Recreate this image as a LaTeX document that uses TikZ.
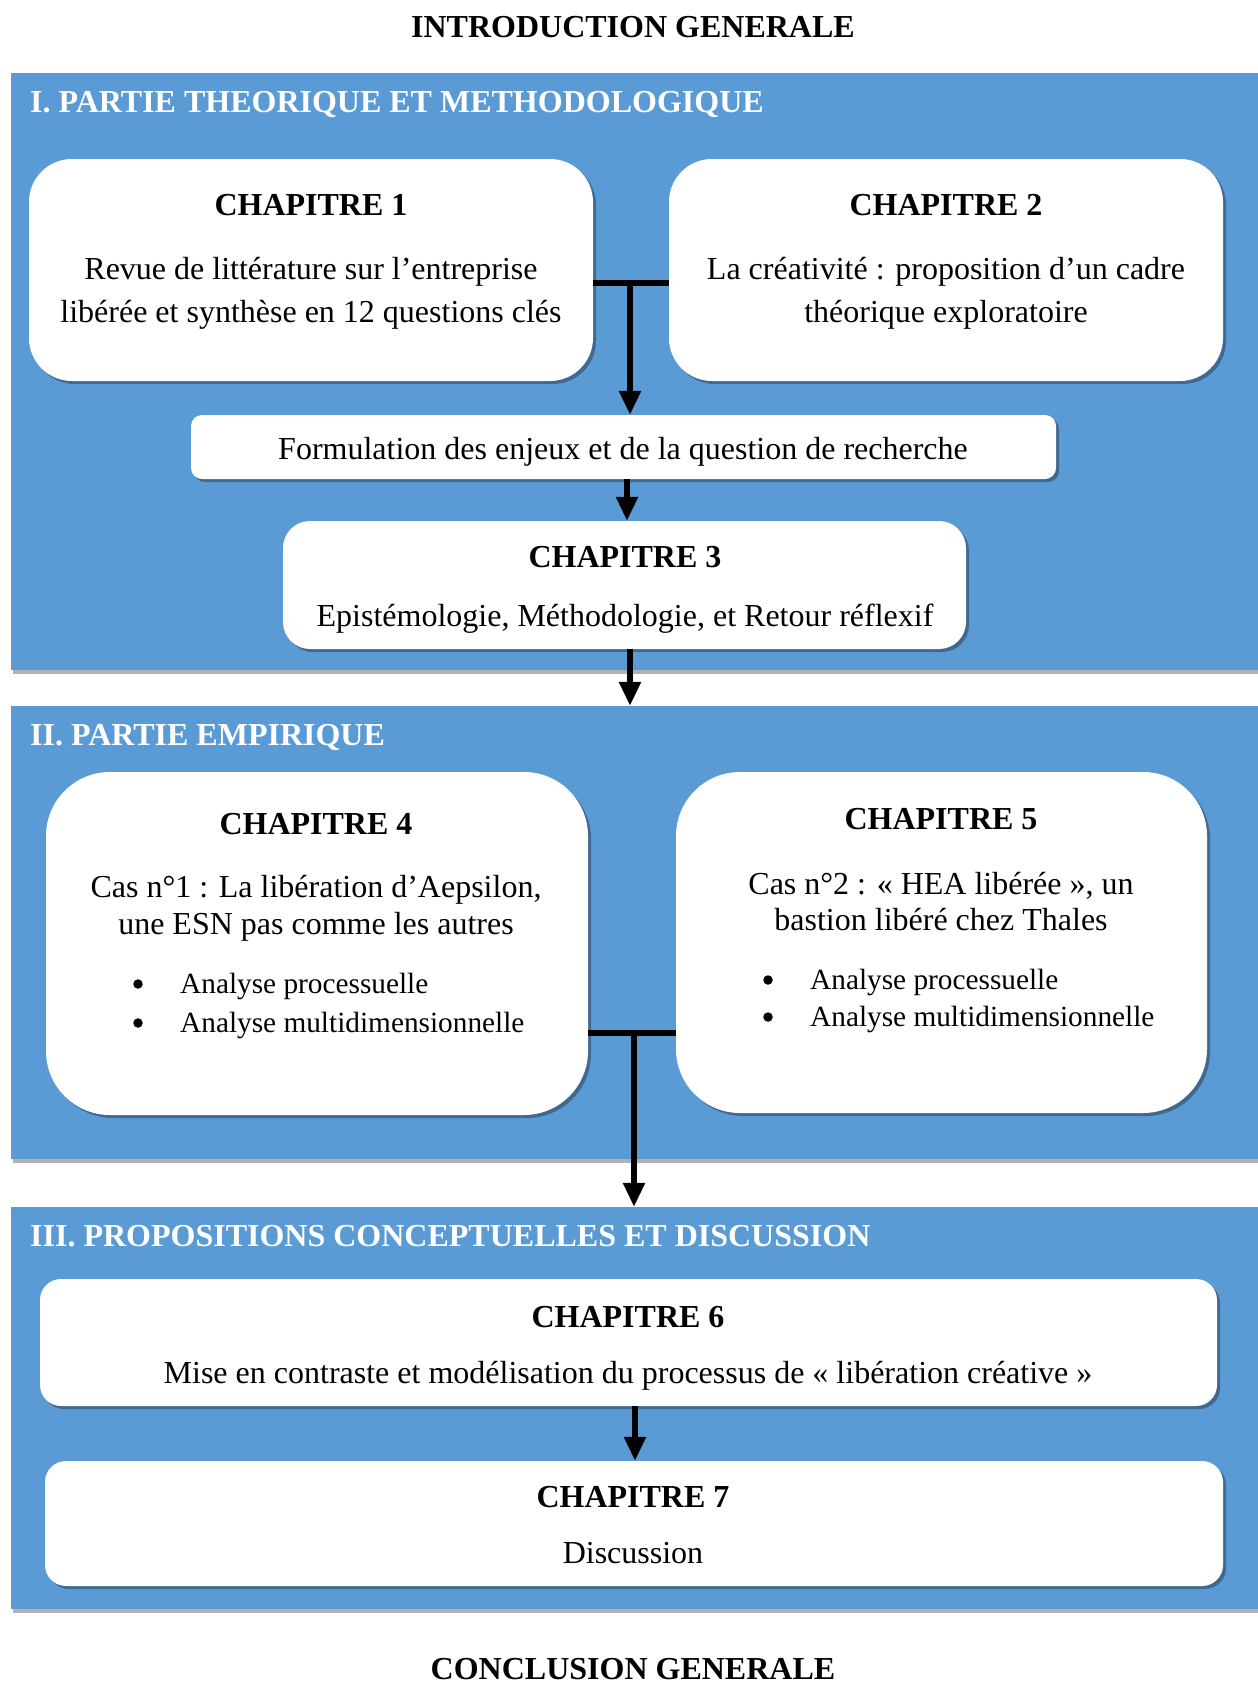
\documentclass[tikz,border=0pt]{standalone}
\usepackage{fontspec}
\setmainfont{Liberation Serif}
\usetikzlibrary{shadows,arrows.meta}
\definecolor{panelblue}{HTML}{5B9BD5}
\begin{document}
\begin{tikzpicture}[x=1pt,y=-1pt,
 panel/.style={rectangle, fill=panelblue, draw=none, inner sep=0pt, drop shadow={shadow xshift=2pt,shadow yshift=-4pt,opacity=0.3,fill=black}},
 box/.style={rectangle, fill=white, draw=none, inner sep=0pt, drop shadow={shadow xshift=3pt,shadow yshift=-3pt,opacity=0.45,fill=black!70!panelblue}},
 txt/.style={anchor=base, inner sep=0pt, font=\fontsize{32}{40}\selectfont},
 ttl/.style={anchor=base, inner sep=0pt, font=\fontsize{32}{40}\selectfont\bfseries},
 ptitle/.style={ttl, text=white, anchor=base west},
 btxt/.style={anchor=base west, inner sep=0pt, font=\fontsize{29.3}{36}\selectfont},
 bdot/.style={circle, fill=black, draw=none, inner sep=0pt, minimum size=9.5pt},
 link/.style={line width=5.5pt, draw=black},
 arr/.style={link, -{Triangle[length=24pt,width=21pt]}}]
\useasboundingbox (0,0) rectangle (1258,1682);
\fill[white] (0,0) rectangle (1258,1682);

% panels
\node[panel, minimum width=1262pt, minimum height=597pt] (p1) at (642,371.5) {};
\node[panel, minimum width=1262pt, minimum height=453pt] (p2) at (642,932.5) {};
\node[panel, minimum width=1262pt, minimum height=402pt] (p3) at (642,1408) {};

% titles
\node[ttl] (intro) at (633,37) {INTRODUCTION GENERALE};
\node[ttl] (concl) at (633,1679) {CONCLUSION GENERALE};
\node[ptitle] (pt1) at (30,112) {I. PARTIE THEORIQUE ET METHODOLOGIQUE};
\node[ptitle] (pt2) at (30,745) {II. PARTIE EMPIRIQUE};
\node[ptitle] (pt3) at (30,1246) {III. PROPOSITIONS CONCEPTUELLES ET DISCUSSION};

% boxes
\node[box, rounded corners=43pt, minimum width=564pt, minimum height=222pt] (c1) at (311,270) {};
\node[box, rounded corners=43pt, minimum width=554pt, minimum height=222pt] (c2) at (946,270) {};
\node[box, rounded corners=11pt, minimum width=865pt, minimum height=64pt] (form) at (623.5,447) {};
\node[box, rounded corners=27pt, minimum width=683pt, minimum height=128pt] (c3) at (624.5,585) {};
\node[box, rounded corners=64pt, minimum width=542pt, minimum height=343pt] (c4) at (317,943.5) {};
\node[box, rounded corners=64pt, minimum width=531pt, minimum height=341pt] (c5) at (941.5,942.5) {};
\node[box, rounded corners=21pt, minimum width=1177pt, minimum height=127pt] (c6) at (628.5,1342.5) {};
\node[box, rounded corners=21pt, minimum width=1178pt, minimum height=125pt] (c7) at (634,1523.5) {};

% texts chapter 1
\node[ttl] (c1t) at (311,215) {CHAPITRE 1};
\node[txt] (c1a) at (311,279) {Revue de littérature sur l’entreprise};
\node[txt] (c1b) at (311,322) {libérée et synthèse en 12 questions clés};
% chapter 2
\node[ttl] (c2t) at (946,215) {CHAPITRE 2};
\node[txt] (c2a) at (946,279) {La créativité : proposition d’un cadre};
\node[txt] (c2b) at (946,322) {théorique exploratoire};
% formulation
\node[txt] (formt) at (623,459) {Formulation des enjeux et de la question de recherche};
% chapter 3
\node[ttl] (c3t) at (625,567) {CHAPITRE 3};
\node[txt] (c3a) at (625,626) {Epistémologie, Méthodologie, et Retour réflexif};
% chapter 4
\node[ttl] (c4t) at (316,834) {CHAPITRE 4};
\node[txt] (c4a) at (316,897) {Cas n°1 : La libération d’Aepsilon,};
\node[txt] (c4b) at (316,934) {une ESN pas comme les autres};
\node[bdot] (c4d1) at (138,984) {};
\node[btxt] (c4e1) at (180,993) {Analyse processuelle};
\node[bdot] (c4d2) at (138,1023) {};
\node[btxt] (c4e2) at (180,1032) {Analyse multidimensionnelle};
% chapter 5
\node[ttl] (c5t) at (941,829) {CHAPITRE 5};
\node[txt] (c5a) at (941,894) {Cas n°2 : «~HEA libérée~», un};
\node[txt] (c5b) at (941,930) {bastion libéré chez Thales};
\node[bdot] (c5d1) at (768,980) {};
\node[btxt] (c5e1) at (810,989) {Analyse processuelle};
\node[bdot] (c5d2) at (768,1017) {};
\node[btxt] (c5e2) at (810,1026) {Analyse multidimensionnelle};
% chapter 6
\node[ttl] (c6t) at (628,1327) {CHAPITRE 6};
\node[txt] (c6a) at (628,1383) {Mise en contraste et modélisation du processus de «~libération créative~»};
% chapter 7
\node[ttl] (c7t) at (633,1507) {CHAPITRE 7};
\node[txt] (c7a) at (633,1563) {Discussion};

% connectors
\coordinate (j1) at (630,283);
\draw[link] (c1.east |- j1) -- (c2.west |- j1);
\draw[arr] (j1) -- (j1 |- form.north);
\coordinate (x2) at (627,0);
\draw[arr] (form.south -| x2) -- (c3.north -| x2);
\coordinate (x3) at (630,0);
\draw[arr] (c3.south -| x3) -- (p2.north -| x3);
\coordinate (j2) at (634,1033);
\draw[link] (c4.east |- j2) -- (c5.west |- j2);
\draw[arr] (j2) -- (j2 |- p3.north);
\coordinate (x5) at (635,0);
\draw[arr] (c6.south -| x5) -- (c7.north -| x5);
\end{tikzpicture}
\end{document}
